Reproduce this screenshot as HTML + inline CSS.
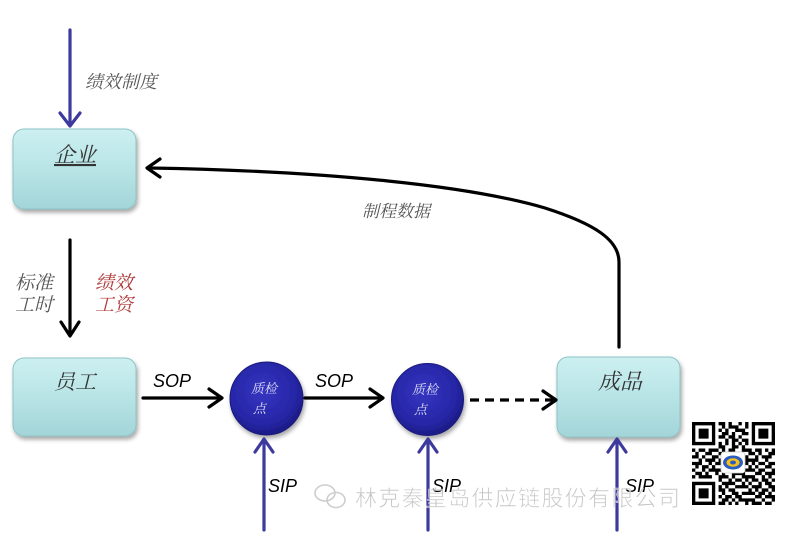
<!DOCTYPE html>
<html><head><meta charset="utf-8"><style>
html,body{margin:0;padding:0;background:#fff;}
svg{display:block;}
.cj{font-family:"Liberation Serif","Noto Serif CJK SC",serif;font-style:italic;}
.lat{font-family:"Liberation Sans",sans-serif;font-style:italic;}
</style></head><body>
<svg width="800" height="540" viewBox="0 0 800 540" xmlns="http://www.w3.org/2000/svg">
<defs>
<linearGradient id="bx" x1="0" y1="0" x2="0" y2="1">
<stop offset="0" stop-color="#cdf0f1"/><stop offset="0.5" stop-color="#b8e4e6"/><stop offset="1" stop-color="#a3d5d8"/>
</linearGradient>
<radialGradient id="cg" cx="0.45" cy="0.4" r="0.6">
<stop offset="0" stop-color="#3535c2"/><stop offset="0.75" stop-color="#2626a6"/><stop offset="1" stop-color="#1b1b85"/>
</radialGradient>
<filter id="sh" x="-20%" y="-20%" width="140%" height="150%">
<feDropShadow dx="1.5" dy="3" stdDeviation="2" flood-color="#000" flood-opacity="0.35"/>
</filter>
</defs>

<!-- boxes -->
<rect x="13" y="129" width="123" height="80" rx="11" fill="url(#bx)" stroke="#8fc4c7" stroke-width="1" filter="url(#sh)"/>
<rect x="13" y="358" width="123" height="78" rx="11" fill="url(#bx)" stroke="#8fc4c7" stroke-width="1" filter="url(#sh)"/>
<rect x="557" y="357" width="123" height="80" rx="11" fill="url(#bx)" stroke="#8fc4c7" stroke-width="1" filter="url(#sh)"/>

<!-- circles -->
<circle cx="266.5" cy="398.5" r="36.5" fill="url(#cg)" stroke="#1a1a7a" stroke-width="1" filter="url(#sh)"/>
<circle cx="427.5" cy="399.5" r="36" fill="url(#cg)" stroke="#1a1a7a" stroke-width="1" filter="url(#sh)"/>

<!-- blue arrows -->
<g stroke="#3d3a9e" stroke-width="3.2" fill="none" stroke-linecap="round" stroke-linejoin="round">
<line x1="70" y1="30" x2="70" y2="124"/>
<polyline points="60,113 70,126 80,113"/>
<line x1="264" y1="530" x2="264" y2="441"/>
<polyline points="255,452 264,439 273,452"/>
<line x1="428" y1="530" x2="428" y2="441"/>
<polyline points="419,452 428,439 437,452"/>
<line x1="617" y1="530" x2="617" y2="441"/>
<polyline points="608,452 617,439 626,452"/>
</g>

<!-- black arrows -->
<g stroke="#000" stroke-width="3.2" fill="none" stroke-linecap="round" stroke-linejoin="round">
<line x1="70" y1="240" x2="70" y2="334"/>
<polyline points="61,322 70,336 79,322"/>
<line x1="143" y1="398" x2="220" y2="398"/>
<polyline points="209,389 222,398 209,407"/>
<line x1="305" y1="398" x2="381" y2="398"/>
<polyline points="370,389 383,398 370,407"/>
<line x1="470" y1="400" x2="553" y2="400" stroke-dasharray="9,6" stroke-linecap="butt"/>
<polyline points="543,391 556,400 543,409"/>
<path d="M619 347 V262 C619 240 595 224 545 208 C470 186 330 171 149 168"/>
<polyline points="160,159 147,168 160,177"/>
</g>

<!-- labels -->
<text class="cj" x="85" y="88" font-size="18" fill="#555">绩效制度</text>
<text class="cj" x="75" y="162" font-size="21" fill="#333" text-anchor="middle" text-decoration="underline">企业</text>
<text class="cj" x="362" y="217" font-size="17" fill="#555">制程数据</text>
<text class="cj" x="15" y="289" font-size="19" fill="#555">标准</text>
<text class="cj" x="15" y="311" font-size="19" fill="#555">工时</text>
<text class="cj" x="95" y="289" font-size="19" fill="#b03838">绩效</text>
<text class="cj" x="95" y="311" font-size="19" fill="#b03838">工资</text>
<text class="cj" x="75" y="389" font-size="21" fill="#333" text-anchor="middle">员工</text>
<text class="cj" x="620" y="389" font-size="22" fill="#333" text-anchor="middle">成品</text>
<text class="lat" x="153" y="387" font-size="18" fill="#000">SOP</text>
<text class="lat" x="315" y="387" font-size="18" fill="#000">SOP</text>
<text class="cj" x="251" y="393" font-size="13" fill="#e0e0f5">质检</text>
<text class="cj" x="253" y="413" font-size="13" fill="#e0e0f5">点</text>
<text class="cj" x="412" y="394" font-size="13" fill="#e0e0f5">质检</text>
<text class="cj" x="414" y="414" font-size="13" fill="#e0e0f5">点</text>
<text class="lat" x="268" y="492" font-size="18" fill="#000">SIP</text>
<text class="lat" x="432" y="492" font-size="18" fill="#000">SIP</text>
<text class="lat" x="625" y="492" font-size="18" fill="#000">SIP</text>

<!-- watermark -->
<g opacity="0.75">
<text x="355" y="506" font-size="22" fill="#b5b5b5" stroke="#fff" stroke-width="0.6" textLength="325" lengthAdjust="spacing" style="font-family:'Liberation Sans','Noto Sans CJK SC',sans-serif;">林克秦皇岛供应链股份有限公司</text>
<g fill="none" stroke="#bdbdbd" stroke-width="1.6">
<ellipse cx="325" cy="493" rx="10" ry="8"/>
<ellipse cx="336" cy="500" rx="9" ry="7.5"/>
</g>
</g>

<!-- QR code -->
<rect x="690" y="420" width="88" height="88" fill="#fff"/>
<g transform="translate(692,422) scale(3.32)" fill="#000">
<path d="M0 0h7v1h-7zM8 0h2v1h-2zM11 0h1v1h-1zM14 0h1v1h-1zM16 0h1v1h-1zM18 0h7v1h-7z
M0 1h1v1h-1zM6 1h1v1h-1zM9 1h1v1h-1zM11 1h3v1h-3zM16 1h1v1h-1zM18 1h1v1h-1zM24 1h1v1h-1z
M0 2h1v1h-1zM2 2h3v1h-3zM6 2h1v1h-1zM8 2h1v1h-1zM10 2h1v1h-1zM13 2h3v1h-3zM18 2h1v1h-1zM20 2h3v1h-3zM24 2h1v1h-1z
M0 3h1v1h-1zM2 3h3v1h-3zM6 3h1v1h-1zM9 3h2v1h-2zM12 3h1v1h-1zM15 3h2v1h-2zM18 3h1v1h-1zM20 3h3v1h-3zM24 3h1v1h-1z
M0 4h1v1h-1zM2 4h3v1h-3zM6 4h1v1h-1zM8 4h2v1h-2zM11 4h2v1h-2zM14 4h1v1h-1zM18 4h1v1h-1zM20 4h3v1h-3zM24 4h1v1h-1z
M0 5h1v1h-1zM6 5h1v1h-1zM10 5h1v1h-1zM12 5h2v1h-2zM15 5h2v1h-2zM18 5h1v1h-1zM24 5h1v1h-1z
M0 6h7v1h-7zM8 6h1v1h-1zM10 6h1v1h-1zM12 6h1v1h-1zM14 6h1v1h-1zM16 6h1v1h-1zM18 6h7v1h-7z
M8 7h2v1h-2zM12 7h2v1h-2zM15 7h1v1h-1z
M0 8h1v1h-1zM2 8h2v1h-2zM5 8h3v1h-3zM9 8h1v1h-1zM11 8h2v1h-2zM15 8h3v1h-3zM19 8h2v1h-2zM22 8h1v1h-1zM24 8h1v1h-1z
M1 9h1v1h-1zM4 9h2v1h-2zM8 9h1v1h-1zM10 9h2v1h-2zM13 9h2v1h-2zM17 9h2v1h-2zM20 9h1v1h-1zM23 9h2v1h-2z
M0 10h2v1h-2zM3 10h1v1h-1zM6 10h2v1h-2zM9 10h2v1h-2zM14 10h3v1h-3zM19 10h1v1h-1zM21 10h3v1h-3z
M2 11h1v1h-1zM4 11h3v1h-3zM8 11h1v1h-1zM11 11h3v1h-3zM16 11h4v1h-4zM22 11h1v1h-1z
M0 12h3v1h-3zM5 12h1v1h-1zM7 12h3v1h-3zM15 12h2v1h-2zM18 12h1v1h-1zM20 12h2v1h-2zM23 12h2v1h-2z
M1 13h1v1h-1zM3 13h2v1h-2zM6 13h1v1h-1zM10 13h1v1h-1zM12 13h3v1h-3zM17 13h1v1h-1zM19 13h1v1h-1zM22 13h2v1h-2z
M0 14h1v1h-1zM3 14h1v1h-1zM5 14h4v1h-4zM10 14h2v1h-2zM14 14h1v1h-1zM16 14h3v1h-3zM20 14h2v1h-2zM24 14h1v1h-1z
M1 15h2v1h-2zM4 15h1v1h-1zM7 15h1v1h-1zM9 15h1v1h-1zM12 15h4v1h-4zM19 15h2v1h-2zM22 15h3v1h-3z
M0 16h1v1h-1zM2 16h4v1h-4zM8 16h3v1h-3zM12 16h1v1h-1zM15 16h4v1h-4zM21 16h1v1h-1zM23 16h1v1h-1z
M8 17h1v1h-1zM11 17h1v1h-1zM13 17h2v1h-2zM16 17h1v1h-1zM18 17h2v1h-2zM21 17h2v1h-2zM24 17h1v1h-1z
M0 18h7v1h-7zM9 18h4v1h-4zM15 18h1v1h-1zM17 18h1v1h-1zM20 18h1v1h-1zM22 18h2v1h-2z
M0 19h1v1h-1zM6 19h1v1h-1zM8 19h1v1h-1zM10 19h1v1h-1zM13 19h4v1h-4zM18 19h3v1h-3zM23 19h2v1h-2z
M0 20h1v1h-1zM2 20h3v1h-3zM6 20h1v1h-1zM8 20h2v1h-2zM11 20h2v1h-2zM17 20h1v1h-1zM19 20h1v1h-1zM21 20h2v1h-2zM24 20h1v1h-1z
M0 21h1v1h-1zM2 21h3v1h-3zM6 21h1v1h-1zM9 21h1v1h-1zM12 21h2v1h-2zM15 21h4v1h-4zM20 21h2v1h-2zM23 21h1v1h-1z
M0 22h1v1h-1zM2 22h3v1h-3zM6 22h1v1h-1zM8 22h1v1h-1zM10 22h2v1h-2zM13 22h2v1h-2zM19 22h2v1h-2zM22 22h3v1h-3z
M0 23h1v1h-1zM6 23h1v1h-1zM9 23h2v1h-2zM12 23h1v1h-1zM14 23h5v1h-5zM21 23h1v1h-1zM24 23h1v1h-1z
M0 24h7v1h-7zM8 24h2v1h-2zM11 24h1v1h-1zM13 24h1v1h-1zM16 24h1v1h-1zM18 24h3v1h-3zM22 24h2v1h-2z"/>
</g>
<rect x="721" y="452" width="24" height="21" rx="3" fill="#fff" stroke="#ccc" stroke-width="0.8"/>
<ellipse cx="733" cy="462.5" rx="10" ry="7" fill="#2c5cc0"/>
<ellipse cx="733" cy="462.5" rx="6.5" ry="4.2" fill="#f2c21a"/>
<ellipse cx="733" cy="462.5" rx="3" ry="2" fill="#2c5cc0"/>
</svg>
</body></html>
